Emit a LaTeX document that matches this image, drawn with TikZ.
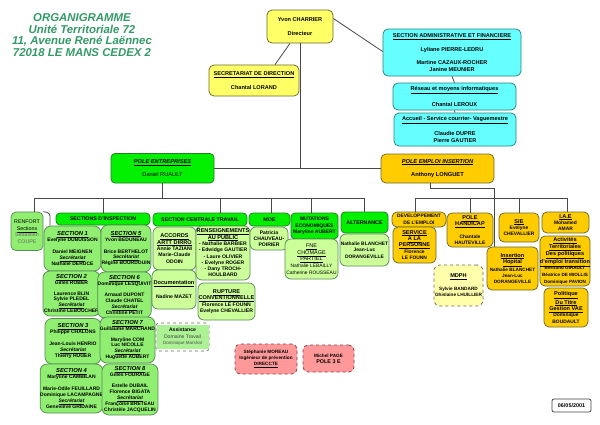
\documentclass[tikz,border=0pt]{standalone}
\usepackage{fontspec}
\setmainfont{Liberation Sans}
\newcommand\ulx[1]{\underline{#1}}
\newcommand\fs[2]{\fontsize{#1}{#2}\selectfont}
\newcommand\hh[1]{{\fs{5.6}{6.2}\ulx{#1}}}
\newcommand\st[1]{{\fs{5.8}{6}\itshape\ulx{#1}}}
\newcommand\sr{{\itshape\ulx{Secrétariat}}}
\tikzset{
  base/.style={draw=edgecol,line width=.75pt,rounded corners=5pt,inner sep=0pt,align=center,
    font=\fs{4.9}{6.4}\bfseries,text=black},
  yel/.style={base,fill=yelcol,font=\fs{5.6}{6.5}\bfseries},
  cya/.style={base,fill=cyacol,draw=cyaedge,font=\fs{5.6}{6.5}\bfseries},
  vif/.style={base,fill=vifcol,draw=vifedge,rounded corners=4pt,font=\fs{5.3}{6.3}\bfseries},
  sec/.style={base,fill=seccol,draw=secedge,rounded corners=7pt,font=\fs{5}{5.9}\bfseries},
  pale/.style={base,fill=palecol,draw=secedge,rounded corners=6pt,font=\fs{5.1}{6.3}\bfseries},
  ora/.style={base,fill=oracol,rounded corners=5pt},
  roz/.style={base,fill=rozcol,dashed,draw=rozedge,line width=.8pt,font=\fs{4.7}{6}\bfseries},
  link/.style={draw=linecol,line width=.8pt},
  titre/.style={inner sep=0pt,font=\fs{11.4}{11.7}\bfseries\itshape,text=titrecol,align=center}
}
\definecolor{edgecol}{HTML}{6A6A30}
\definecolor{linecol}{HTML}{484848}
\definecolor{yelcol}{HTML}{FFFF66}
\definecolor{cyacol}{HTML}{66FFFF}
\definecolor{cyaedge}{HTML}{2E8080}
\definecolor{vifcol}{HTML}{00F000}
\definecolor{vifedge}{HTML}{208020}
\definecolor{seccol}{HTML}{90EE70}
\definecolor{secedge}{HTML}{5A8A5A}
\definecolor{palecol}{HTML}{CCFF99}
\definecolor{oracol}{HTML}{FFCC00}
\definecolor{rozcol}{HTML}{FF9999}
\definecolor{rozedge}{HTML}{804050}
\definecolor{titrecol}{HTML}{339966}
\newcommand\nb[7][yel]{\node[#1,minimum width={#5-#3},minimum height={#6-#4}] (#2) at ({(#3+#5)/2},{(#4+#6)/2}) {#7};}
\begin{document}
\begin{tikzpicture}[x=1pt,y=-1pt]
\useasboundingbox (0,0) rectangle (600,424);
\node[titre] (titre) at (82,35) {ORGANIGRAMME\\Unité Territoriale 72\\11, Avenue René Laënnec\\72018 LE MANS CEDEX 2};
% bus coordinates
\coordinate (busA) at (34,198);
\coordinate (busB) at (103,198);
\coordinate (busC) at (220,198);
\coordinate (busD) at (271,198);
\coordinate (busE) at (311,198);
\coordinate (busF) at (364,198);
\coordinate (busG) at (415,198);
\coordinate (busH) at (470,198);
\coordinate (busI) at (519,198);
\coordinate (busJ) at (567,198);
\coordinate (coudeA) at (430,188);
\coordinate (coudeB) at (494,188);
\coordinate (jonction) at (300,168);
\coordinate (renfA) at (50,213);
\nb{dir}{267}{10}{333}{43}{Yvon CHARRIER\\[7pt]Directeur}
\nb{secr}{209}{65}{299}{96}{\ulx{SECRETARIAT DE DIRECTION}\\[7pt]Chantal LORAND}
\nb[cya]{saf}{383}{29}{521}{76}{\ulx{SECTION ADMINISTRATIVE ET FINANCIERE}\\[7pt]Lyliane PIERRE-LEDRU\\[7pt]Martine CAZAUX-ROCHER\\Janine MEUNIER}
\nb[cya]{res}{393}{83}{516}{110}{\ulx{Réseau et moyens informatiques}\\[7pt]Chantal LEROUX}
\nb[cya]{acc}{394}{113}{516}{146}{\ulx{Accueil - Service courrier- Vaguemestre}\\[7pt]Claudie DUPRE\\Pierre GAUTIER}
\nb[vif,font=\fs{5.7}{6.5}\bfseries]{pent}{111}{153.5}{214}{183}{\textit{\ulx{POLE ENTREPRISES}}\\[7pt]\textmd{Daniel RUAULT}}
\nb[ora,font=\fs{5.7}{6.5}\bfseries]{pemp}{381}{154}{494}{183}{\textit{\ulx{POLE EMPLOI INSERTION}}\\[7pt]Anthony LONGUET}
% connectors
\draw[link] ([xshift=-10pt]dir.south) -- ([xshift=21pt]secr.north);
\draw[link] ([yshift=8pt]dir.east) -- ([yshift=1pt]saf.west);
\draw[link] (saf.south) -- (res.north);
\draw[link] (res.south) -- (acc.north);
\draw[link] (dir.south) -- (jonction);
\draw[link] (pent.east |- jonction) -- (pemp.west |- jonction);
\draw[link] (pent.south) -- (pent.south |- busA);
\draw[link] (busA) -- (busF);
\draw[link] (busG) -- (busJ);
\draw[link] (coudeA |- pemp.south) -- (coudeA) -- (coudeB);
% green column
\nb[sec,rounded corners=5pt,font=\fs{5.3}{6.3}\mdseries]{renf}{11}{212}{43}{250.5}{RENFORT\\[1pt]\ulx{Sections}\\{\color{black!60}Sébastien}\\{\color{black!60}COUPE}}
\nb[vif]{hins}{56}{213}{150}{225}{SECTIONS D'INSPECTION}
\nb[vif]{hcen}{153}{213}{247}{226}{SECTION CENTRALE TRAVAIL}
\nb[vif]{hmoe}{249}{213}{290}{226}{MOE}
\nb[vif,font=\fs{5}{6.3}\bfseries]{hmut}{291}{213}{338}{239}{MUTATIONS\\ECONOMIQUES\\Maryline AUBERT}
\nb[vif]{halt}{341}{212}{388}{233}{ALTERNANCE}
\draw[link] (busA) -- (busA |- renf.north);
\draw[link] (busB) -- (busB |- hins.north);
\draw[link] (busC) -- (busC |- hcen.north);
\draw[link] (busD) -- (busD |- hmoe.north);
\draw[link] (busE) -- (busE |- hmut.north);
\draw[link] (busF) -- (busF |- halt.north);
\nb[sec]{s1}{44}{226}{101}{271}{\st{SECTION 1}\\Evelyne DUBUISSON\\[6pt]Daniel MEIGNEN\\\sr\\Nathalie DERUCE}
\nb[sec]{s5}{101}{225}{151}{272}{\st{SECTION 5}\\Yvon BEDUNEAU\\[6pt]Brice BERTHELOT\\\sr\\Régine BOURDOUIN}
\draw[link,rounded corners=3pt] (renf.north east) -- (renfA) -- (renfA |- s1.north);
\nb[sec]{s2}{43}{271}{100}{316}{\st{SECTION 2}\\Gilles ROBER\\[5pt]Laurence BLIN\\Sylvie PLEDEL\\\sr\\Christine LEBOUCHER}
\nb[sec]{s6}{99}{272}{150}{318}{\st{SECTION 6}\\Dominique LESQUIVIT\\[5pt]Arnaud DUPONT\\Claude CHATEL\\\sr\\Christine PETIT}
\nb[sec]{s3}{45}{318.5}{101}{364}{\st{SECTION 3}\\Philippe CHALONS\\[6pt]Jean-Louis HENRIO\\\sr\\Thierry HUGER}
\nb[sec]{s7}{100}{317}{155}{363}{\st{SECTION 7}\\Guillaume MARCHAND\\[5pt]Maryline COM\\Luc NICOLLE\\\sr\\Huguette AUBERT}
\nb[sec]{s4}{41}{364}{102}{413}{\st{SECTION 4}\\Maryline CAMBILAN\\[6pt]Marie-Odile FEUILLARD\\Dominique LACAMPAGNE\\\sr\\Geneviève GRIDAINE}
\nb[sec]{s8}{102}{364}{158}{415}{\st{SECTION 8}\\Gilles FOURAGE\\[5pt]Estelle DUBAIL\\Florence BIGATA\\\sr\\Françoise BRETEAU\\Christèle JACQUELIN}
% centre
\nb[pale]{acco}{153}{227}{196}{270}{\hh{ACCORDS}\\\hh{ARTT DIRRO}\\Annie TAZIANI\\Marie-Claude\\ODOIN}
\nb[pale]{rens}{196}{226}{250}{280}{\hh{RENSEIGNEMENTS}\\\hh{AU PUBLIC}\\- Nathalie BARBIER\\- Edwidge GAUTIER\\- Laure OLIVIER\\- Evelyne ROGER\\- Dany TROCH-\\HOULBARD}
\nb[pale]{docu}{152}{270}{196}{309}{\hh{Documentation}\\[7pt]Nadine MAZET}
\nb[pale]{rupt}{198}{283}{255}{320}{\hh{RUPTURE}\\\hh{CONVENTIONNELLE}\\Florence LE FOUNN\\Evelyne CHEVALLIER}
\nb[base,dashed,draw=black!60,fill=white,rounded corners=3pt,line width=.6pt]{assi}{156}{323}{209}{351}{}
\node[base,draw=none,fill=seccol!75,rounded corners=0pt,minimum width=52pt,minimum height=24pt,font=\fs{5.1}{6.6}] (assit) at (assi) {\textbf{Assistance}\\\color{black!75}Domaine Travail\\\fs{4.5}{6.4}\color{black!70}Dominique Marshal};
\nb[pale]{moe}{250}{227}{288}{250}{Patricia\\CHAUVEAU-\\POIRIER}
\nb[pale,font=\fs{4.9}{6.6}\mdseries]{fne}{285}{239}{338}{279}{{\fs{5.5}{6.3}\ulx{FNE}}\\{\fs{5.5}{6.3}\ulx{CHOMAGE}}\\{\fs{5.5}{6.3}\ulx{PARTIEL}}\\Nathalie LEBAILLY\\Catherine ROUSSEAU}
\nb[pale,font=\fs{4.9}{6.3}\bfseries]{altn}{340}{234}{389}{266}{Nathalie BLANCHET\\Jean-Luc\\DORANGEVILLE}
% orange
\nb[ora]{dev}{392}{212}{446}{227}{DEVELOPPEMENT\\DE L'EMPLOI}
\nb[ora]{serv}{393}{227}{436}{263}{\hh{SERVICE}\\\hh{A LA}\\\hh{PERSONNE}\\Florence\\LE FOUNN}
\nb[ora]{hand}{447}{213}{493}{247}{\hh{POLE}\\\hh{HANDICAP}\\[6pt]Chantale\\HAUTEVILLE}
\nb[ora]{sie}{499}{213}{539}{242}{\hh{SIE}\\Evelyne\\CHEVALLIER}
\nb[ora]{iae}{542}{212}{589}{233}{\hh{I.A.E}\\Mohamed\\AMAR}
\nb[ora,font=\fs{4.7}{6.4}\bfseries]{hopi}{487}{247}{538}{290}{\hh{Insertion}\\\hh{Hopital}\\Nathalie BLANCHET\\Jean-Luc\\DORANGEVILLE}
\nb[ora,font=\fs{4.6}{6.6}\bfseries]{acti}{541}{236}{589}{286}{\hh{Activités}\\\hh{Territoriales}\\\hh{Des politiques}\\\hh{d'emploi transition}\\Bertrand GIRAULT\\Béatrice DE MIOLLIS\\Dominique PAVION}
\nb[ora]{poli}{544}{288}{588}{327}{\hh{Politique}\\\hh{Du Titre}\\\hh{Gestion VAE}\\Dominique\\BOUDAULT}
\nb[base,fill=yelcol!55,dashed,draw=black!60,rounded corners=6pt,font=\fs{4.7}{6}\bfseries]{mdph}{434}{265}{483}{306}{\hh{MDPH}\\[7pt]Sylvie BANDARD\\Ghislaine LHUILLIER}
\draw[link] (busG) -- (busG |- dev.north);
\draw[link] (busH) -- (busH |- hand.north);
\draw[link] (busI) -- (busI |- sie.north);
\draw[link] (busJ) -- (busJ |- iae.north);
\draw[link] (coudeB) -- (coudeB |- hopi.north);
% pink and date
\nb[roz]{rza}{235}{344}{297}{374}{Stéphanie MOREAU\\Ingénieur de prévention\\\ulx{DIRECCTE}}
\nb[roz]{rzb}{303}{345}{354}{372}{Michel PAGE\\\fs{5.4}{6.3}POLE 3 E}
\nb[base,fill=white,draw=black!75,rounded corners=2pt,font=\fs{5.4}{6}\bfseries]{date}{552}{399}{591}{412}{06/05/2001}
\end{tikzpicture}
\end{document}
